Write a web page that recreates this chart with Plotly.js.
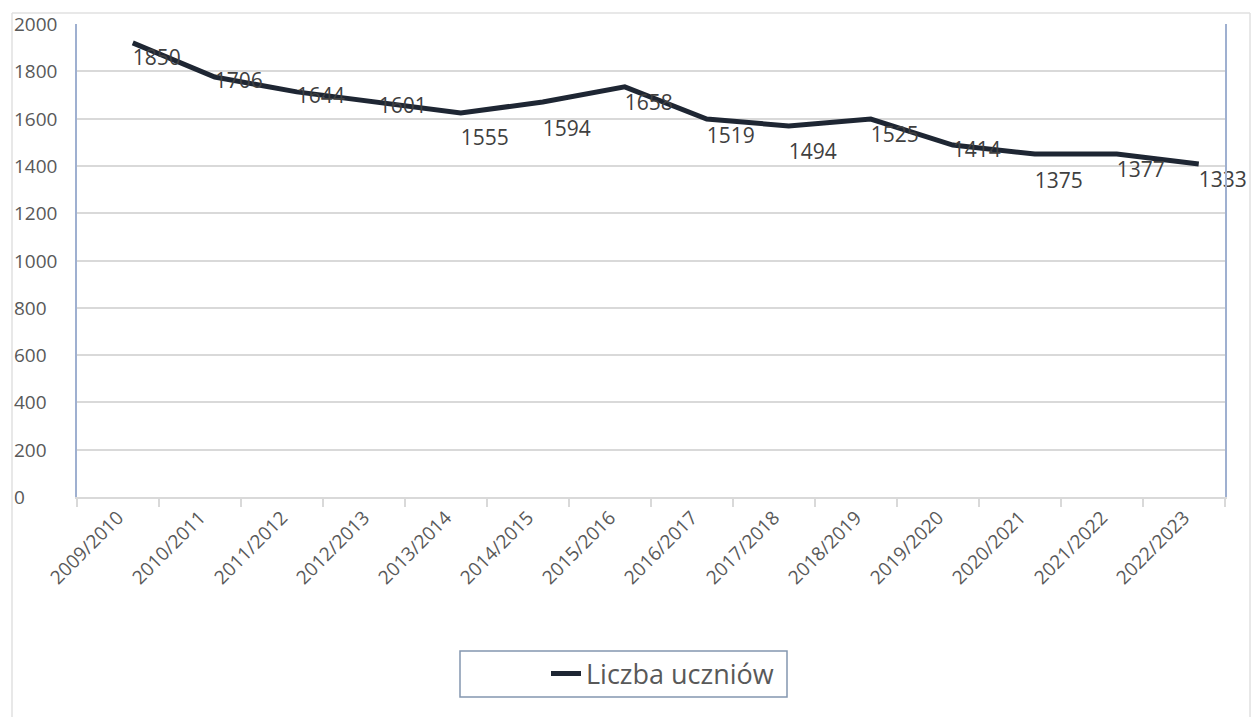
<!DOCTYPE html>
<html>
<head>
<meta charset="utf-8">
<script src="https://cdn.plot.ly/plotly-3.0.1.min.js"></script>
<style>html,body{margin:0;padding:0;background:#fff;}#chart{width:1253px;height:717px;}</style>
</head>
<body>
<div id="chart"></div>
<script>
const categories = ["2009/2010","2010/2011","2011/2012","2012/2013","2013/2014","2014/2015","2015/2016","2016/2017","2017/2018","2018/2019","2019/2020","2020/2021","2021/2022","2022/2023"];
// line as drawn in the picture
const lineValues = [1920,1776,1713,1670,1624,1670,1734,1598,1569,1598,1488,1450,1450,1408];
// data labels printed on the chart
const labelValues = [1850,1706,1644,1601,1555,1594,1658,1519,1494,1525,1414,1375,1377,1333];
const seriesName = "Liczba uczniów";
const yTicks = [0,200,400,600,800,1000,1200,1400,1600,1800,2000];

// label placement style (as in the reference)
const labelPositions = ["middle right","top right","top right","top right","bottom right","bottom right","middle right","middle right","bottom right","middle right","top right","bottom right","middle right","middle right"];

const FONT = "Open Sans, Noto Sans, sans-serif";
const L = 77, R = 1225, T = 24, B = 497;
const pw = R - L, ph = B - T;
const px = x => (x - L) / pw;
const py = y => (B - y) / ph;

const traces = [
  {
    x: categories, y: lineValues, xaxis: "x2", yaxis: "y",
    type: "scatter", mode: "lines", name: seriesName,
    line: {color: "#1e2633", width: 5},
    hoverinfo: "skip", showlegend: true
  },
  {
    x: categories, y: labelValues, xaxis: "x2", yaxis: "y",
    type: "scatter", mode: "text",
    text: labelValues.map(String), textposition: labelPositions,
    textfont: {family: FONT, size: 21, color: "#404040"},
    hoverinfo: "skip", showlegend: false, cliponaxis: false
  },
  {
    x: categories, y: categories.map(() => null), xaxis: "x", yaxis: "y",
    type: "scatter", mode: "lines", showlegend: false, hoverinfo: "skip"
  }
];

const yLabelAnnotations = yTicks.map(v => ({
  xref: "paper", yref: "y", x: px(12), y: v, xanchor: "left", yanchor: "middle",
  text: String(v), showarrow: false,
  font: {family: FONT, size: 19, color: "#595959"}
}));

const layout = {
  width: 1253, height: 717,
  margin: {l: L, r: 1253 - R, t: T, b: 717 - B},
  paper_bgcolor: "#ffffff", plot_bgcolor: "#ffffff",
  font: {family: FONT, color: "#595959"},
  xaxis: {
    type: "category", categoryorder: "array", categoryarray: categories,
    range: [-0.5, categories.length - 0.5],
    showgrid: false, zeroline: false,
    showline: true, linecolor: "#d9d9d9", linewidth: 2,
    ticks: "outside", tickson: "boundaries", ticklen: 8, tickcolor: "#d9d9d9", tickwidth: 2,
    tickangle: -45, tickfont: {family: FONT, size: 19, color: "#595959"},
    fixedrange: true
  },
  xaxis2: {
    type: "category", categoryorder: "array", categoryarray: categories,
    overlaying: "x", range: [-0.68, categories.length - 0.68],
    visible: false, fixedrange: true
  },
  yaxis: {
    range: [0, 2000], tickvals: yTicks, showticklabels: false,
    showgrid: true, gridcolor: "#d9d9d9", gridwidth: 2,
    zeroline: false, showline: true, mirror: true, linecolor: "#9fb0d0", linewidth: 2,
    ticks: "", fixedrange: true
  },
  annotations: yLabelAnnotations,
  showlegend: true,
  legend: {
    x: px(546), xanchor: "left", y: py(674), yanchor: "middle",
    orientation: "h", bgcolor: "rgba(0,0,0,0)", borderwidth: 0,
    font: {family: FONT, size: 27, color: "#595959"}
  },
  shapes: [
    {type: "line", xref: "paper", yref: "paper", x0: px(12), x1: px(12), y0: py(13), y1: py(760), line: {color: "#e0e0e0", width: 1.5}},
    {type: "line", xref: "paper", yref: "paper", x0: px(12), x1: px(1250), y0: py(13), y1: py(13), line: {color: "#e0e0e0", width: 1.5}},
    {type: "line", xref: "paper", yref: "paper", x0: px(1250), x1: px(1250), y0: py(13), y1: py(760), line: {color: "#e0e0e0", width: 1.5}},
    {type: "rect", xref: "paper", yref: "paper", x0: px(460), x1: px(787), y0: py(651), y1: py(697), line: {color: "#8497b0", width: 1.5}, fillcolor: "rgba(0,0,0,0)"}
  ]
};

Plotly.newPlot("chart", traces, layout, {displayModeBar: false, staticPlot: true});
</script>
</body>
</html>
